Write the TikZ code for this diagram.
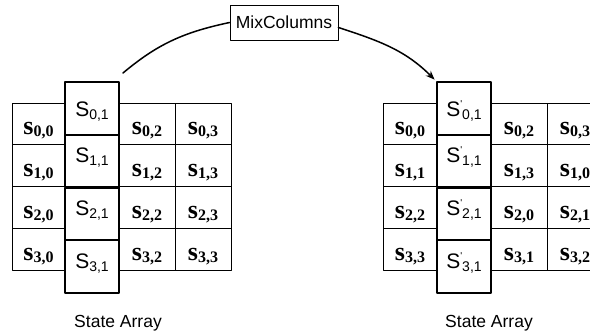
\documentclass[tikz,border=0pt]{standalone}
\usepackage{fontspec}
\setmainfont{Liberation Serif}
\newfontfamily\arial{Liberation Sans}
\usetikzlibrary{arrows.meta}
% cell texts
\newcommand{\bs}[1]{{\fontsize{26}{26}\selectfont\bfseries s\raisebox{-2pt}{\fontsize{16}{16}\selectfont #1}}}
\newcommand{\Sb}[1]{{\arial\fontsize{21}{21}\selectfont S\raisebox{-3pt}{\fontsize{14}{14}\selectfont #1}}}
\newcommand{\Sp}[1]{{\arial\fontsize{21}{21}\selectfont S\raisebox{9pt}{\fontsize{10}{10}\selectfont '}\raisebox{-3pt}{\fontsize{14}{14}\selectfont #1}}}
\tikzset{
	cell/.style={draw, line width=0.8pt, inner sep=0pt, minimum width=56, minimum height=41.75, text height=22pt, text depth=0pt},
	colbox/.style={draw, line width=2pt, inner sep=0pt, minimum width=54, minimum height=52.75, text height=10pt, text depth=7pt},
	lbl/.style={font=\arial\fontsize{17.5}{18}\selectfont},
}
\begin{document}
\begin{tikzpicture}[x=1pt, y=-1pt, line join=round, line cap=round]
				\useasboundingbox (0,0) rectangle (590,335);
				\fill[white] (0,0) rectangle (590,335);
				\clip (0,0) rectangle (590,335);
				% left state array
				\foreach \r/\y in {0/123.9, 1/165.6, 2/207.4, 3/249.1}{
					\node[cell, minimum width=53] (L\r0) at (38.5,\y) {\bs{\r,0}};
					\node[cell] (L\r2) at (147,\y) {\bs{\r,2}};
					\node[cell] (L\r3) at (203,\y) {\bs{\r,3}};
				}
				% right state array
				\foreach \r/\y/\a/\b/\c in {0/123.9/0/2/3, 1/165.6/1/3/0, 2/207.4/2/0/1, 3/249.1/3/1/2}{
					\node[cell, minimum width=54] (R\r0) at (410,\y) {\bs{\r,\a}};
					\node[cell] (R\r2) at (519,\y) {\bs{\r,\b}};
					\node[cell] (R\r3) at (575,\y) {\bs{\r,\c}};
				}
				% column 1
				\node[colbox, text height=17pt, text depth=0pt] (L01) at (92,108.4) {\Sb{0,1}};
				\node[colbox, text height=17pt, text depth=0pt] (R01) at (464,108.4) {\Sp{0,1}};
				\foreach \r/\y in {1/161.1, 2/213.9, 3/266.6}{
					\node[colbox] (L\r1) at (92,\y) {\Sb{\r,1}};
					\node[colbox] (R\r1) at (464,\y) {\Sp{\r,1}};
				}
				\node[draw, line width=0.8pt, minimum width=108, minimum height=35, inner sep=0pt, font=\arial\fontsize{17.5}{18}\selectfont] (mix) at (284,22.5) {MixColumns};
				\coordinate (lstart) at (123,73);
				\draw[line width=1.5pt] (lstart) to[out=40, in=192] (mix.west);
				\draw[line width=1.5pt, -{Stealth[length=9pt, width=7pt]}, shorten >=2pt] ([yshift=-5pt]mix.east) to[out=-18, in=135] (R01.north west);
				\node[lbl] (lname) at (118,323) {State Array};
				\node[lbl] (rname) at (489,323) {State Array};
			\end{tikzpicture}
\end{document}
